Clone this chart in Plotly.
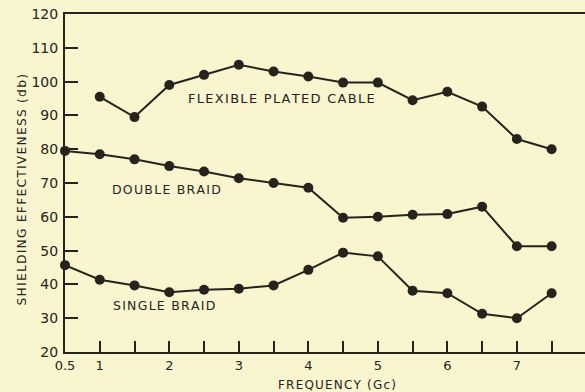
import plotly.graph_objects as go

# Frequency in Gc, shielding effectiveness in db
freq_flex = [1.0, 1.5, 2.0, 2.5, 3.0, 3.5, 4.0, 4.5, 5.0, 5.5, 6.0, 6.5, 7.0, 7.5]
flex_plated = [95.5, 89.5, 99, 102, 105, 103, 101.5, 99.7, 99.7, 94.5, 97, 92.6, 83, 80]

freq = [0.5, 1.0, 1.5, 2.0, 2.5, 3.0, 3.5, 4.0, 4.5, 5.0, 5.5, 6.0, 6.5, 7.0, 7.5]
double_braid = [79.5, 78.5, 77, 75, 73.4, 71.4, 70, 68.6, 59.7, 60, 60.6, 60.8, 63, 51.3, 51.3]
single_braid = [45.7, 41.4, 39.7, 37.7, 38.4, 38.7, 39.7, 44.3, 49.4, 48.3, 38.1, 37.4, 31.3, 30, 37.4]

x_tick_vals = [0.5, 1, 1.5, 2, 2.5, 3, 3.5, 4, 4.5, 5, 5.5, 6, 6.5, 7, 7.5]
x_tick_text = ["0.5", "1", "", "2", "", "3", "", "4", "", "5", "", "6", "", "7", ""]
y_tick_vals = [20, 30, 40, 50, 60, 70, 80, 90, 100, 110, 120]

INK = "#26231c"
PAPER = "#f9f5cf"
FONT = "DejaVu Sans"


def spaced(text):
    """Open up the lettering with hair spaces between characters."""
    return "\u200a".join(text)


fig = go.Figure()
for xs, ys in [(freq_flex, flex_plated), (freq, double_braid), (freq, single_braid)]:
    fig.add_trace(go.Scatter(
        x=xs, y=ys, mode="lines+markers",
        line=dict(color=INK, width=2),
        marker=dict(color=INK, size=10),
        showlegend=False, cliponaxis=False,
    ))

curve_labels = [
    (3.61, 95, "FLEXIBLE PLATED CABLE", 13),
    (1.96, 68.2, "DOUBLE BRAID", 12.5),
    (1.92, 33.8, "SINGLE BRAID", 12.5),
]
for lx, ly, txt, fs in curve_labels:
    fig.add_annotation(x=lx, y=ly, text=spaced(txt), showarrow=False,
                       font=dict(family=FONT, size=fs, color=INK))

fig.add_annotation(xref="paper", yref="paper", x=0.523, y=0, yanchor="top",
                   yshift=-24, text=spaced("FREQUENCY (Gc)"), showarrow=False,
                   font=dict(family=FONT, size=12, color=INK))
fig.add_annotation(xref="paper", yref="paper", x=-0.100, y=0.478, textangle=-90,
                   text=spaced("SHIELDING EFFECTIVENESS (db)"), showarrow=False,
                   font=dict(family=FONT, size=12.3, color=INK))

fig.update_layout(
    width=585, height=392,
    margin=dict(l=65, r=0, t=14, b=40),
    paper_bgcolor=PAPER, plot_bgcolor=PAPER,
    font=dict(family=FONT, color=INK),
)
fig.update_xaxes(
    range=[0.5, 7.98], showgrid=False, zeroline=False,
    showline=True, linecolor=INK, linewidth=2, mirror=True,
    tickmode="array", tickvals=x_tick_vals, ticktext=x_tick_text,
    ticks="inside", ticklen=11, tickwidth=1.5, tickcolor=INK,
    tickfont=dict(family=FONT, size=13, color=INK),
)
fig.update_yaxes(
    range=[20, 120], showgrid=False, zeroline=False,
    showline=True, linecolor=INK, linewidth=2,
    tickmode="array", tickvals=y_tick_vals,
    ticks="inside", ticklen=13, tickwidth=1.5, tickcolor=INK,
    tickfont=dict(family=FONT, size=14, color=INK),
    ticklabelstandoff=2,
)

fig.write_html("out.html")
